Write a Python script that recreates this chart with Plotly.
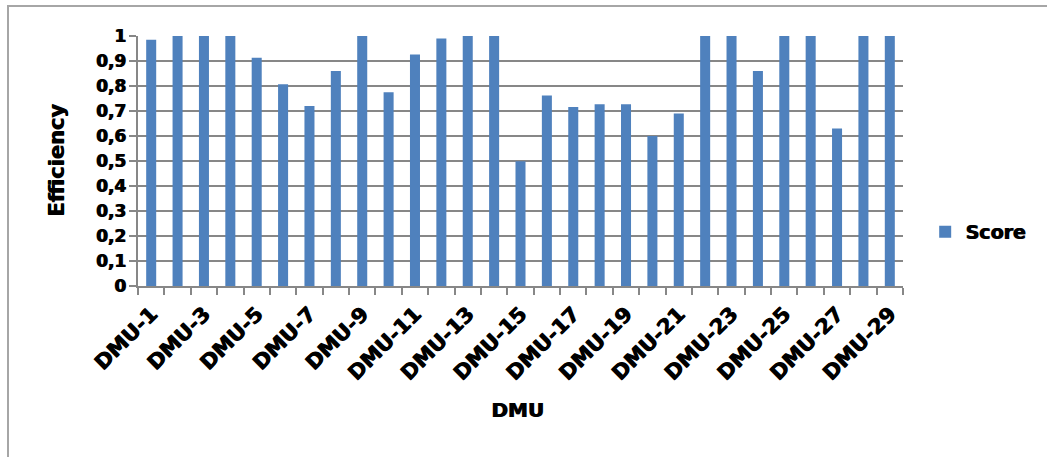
import plotly.graph_objects as go

# Efficiency score for each decision-making unit
dmu = [f"DMU-{i}" for i in range(1, 30)]
score = [0.985, 1.0, 1.0, 1.0, 0.913, 0.807, 0.72, 0.86, 1.0, 0.775,
         0.926, 0.99, 1.0, 1.0, 0.499, 0.762, 0.716, 0.727, 0.727, 0.60,
         0.69, 1.0, 1.0, 0.86, 1.0, 1.0, 0.63, 1.0, 1.0]
y_ticks = [round(0.1 * i, 1) for i in range(11)]

FONT = "DejaVu Sans"
BAR = "#4F81BD"
GRID = "#878787"
HEAVY = "1px 0px 0px #000000"  # thickens the bold strokes a little


def bold_font(size):
    return dict(family=FONT, size=size, weight="bold", color="black", shadow=HEAVY)


# every other category gets a visible label
tick_text = [name if i % 2 == 0 else "" for i, name in enumerate(dmu)]

fig = go.Figure()
fig.add_trace(go.Bar(x=dmu, y=score, name="Score", marker=dict(color=BAR, line=dict(width=0))))

fig.update_layout(
    width=1047, height=457,
    margin=dict(l=138, r=144, t=36, b=171),
    paper_bgcolor="white", plot_bgcolor="white",
    bargap=0.62,
    separators=", ",
    font=dict(family=FONT, color="black"),
    showlegend=True,
    legend=dict(x=1.029, y=0.216, xanchor="left", yanchor="middle",
                font=bold_font(19),
                bgcolor="rgba(0,0,0,0)", borderwidth=0),
    xaxis=dict(
        type="category", tickmode="array", tickvals=dmu, ticktext=tick_text,
        tickson="boundaries", ticks="outside", ticklen=7, tickwidth=1.5, tickcolor=GRID,
        tickangle=-45, tickfont=bold_font(21), ticklabelstandoff=6,
        showline=True, linecolor=GRID, linewidth=1.5, showgrid=False,
    ),
    yaxis=dict(
        range=[0, 1], tickmode="array", tickvals=y_ticks,
        ticks="outside", ticklen=7, tickwidth=1.5, tickcolor=GRID,
        tickfont=bold_font(17),
        showgrid=True, gridcolor=GRID, gridwidth=1.5,
        showline=True, linecolor=GRID, linewidth=1.5, zeroline=False,
    ),
    annotations=[
        dict(text="Efficiency", xref="paper", yref="paper", x=-0.1059, y=0.504,
             xanchor="center", yanchor="middle", textangle=-90, showarrow=False,
             font=bold_font(21)),
        dict(text="DMU", xref="paper", yref="paper", x=0.496, y=-0.496,
             xanchor="center", yanchor="middle", showarrow=False,
             font=bold_font(20)),
    ],
    shapes=[
        # outer chart frame
        dict(type="rect", xref="paper", yref="paper",
             x0=(8 - 138) / 765, y0=(286 - 470) / 250,
             x1=(1060 - 138) / 765, y1=(286 - 6) / 250,
             line=dict(color="#a6a6a6", width=2), layer="below"),
    ],
)

fig.write_html("out.html")
